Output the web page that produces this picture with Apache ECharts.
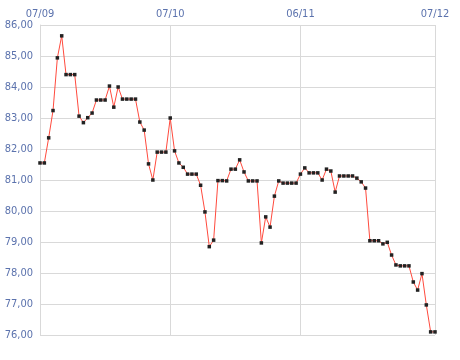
<!DOCTYPE html>
<html>
<head>
<meta charset="utf-8">
<script src="https://cdn.jsdelivr.net/npm/echarts@6/dist/echarts.min.js"></script>
<style>html,body{margin:0;padding:0;background:#fff}#c{width:460px;height:360px}</style>
</head>
<body>
<div id="c"></div>
<script>
// Daily dates from 07/09 to 07/12 (dd/mm)
var startDate = [2012, 8, 7];
var dayCount = 92;
var categories = [];
for (var i = 0; i < dayCount; i++) {
  var d = new Date(Date.UTC(startDate[0], startDate[1], startDate[2] + i));
  var dd = ('0' + d.getUTCDate()).slice(-2), mm = ('0' + (d.getUTCMonth() + 1)).slice(-2);
  categories.push(dd + '/' + mm);
}
var tickLabels = ['07/09', '07/10', '06/11', '07/12'];
var values = [
  81.55, 81.55, 82.36, 83.24, 84.94, 85.65, 84.40, 84.40, 84.40, 83.06,
  82.85, 83.01, 83.16, 83.58, 83.58, 83.58, 84.03, 83.35, 84.00, 83.61,
  83.61, 83.61, 83.61, 82.87, 82.61, 81.52, 81.00, 81.90, 81.90, 81.90,
  83.00, 81.94, 81.55, 81.41, 81.19, 81.19, 81.19, 80.83, 79.97, 78.85,
  79.06, 80.98, 80.98, 80.97, 81.35, 81.35, 81.65, 81.26, 80.97, 80.97,
  80.97, 78.97, 79.81, 79.48, 80.48, 80.97, 80.90, 80.90, 80.90, 80.90,
  81.19, 81.39, 81.23, 81.23, 81.23, 81.00, 81.35, 81.29, 80.61, 81.13,
  81.13, 81.13, 81.13, 81.06, 80.94, 80.74, 79.04, 79.04, 79.04, 78.94,
  78.99, 78.58, 78.26, 78.23, 78.23, 78.23, 77.71, 77.45, 77.98, 76.97,
  76.10, 76.10
];
var yMin = 76, yMax = 86, yStep = 1;

var labelColor = '#5b72ad';
var gridColor = '#d9d9d9';
var chart = echarts.init(document.getElementById('c'), null, {renderer: 'canvas'});
function isTick(idx, val) { return tickLabels.indexOf(categories[idx]) >= 0; }
chart.setOption({
  animation: false,
  grid: {left: 40, right: 25, top: 25, bottom: 25, containLabel: false},
  xAxis: {
    type: 'category',
    position: 'top',
    data: categories,
    boundaryGap: false,
    axisLine: {show: false},
    axisTick: {show: false},
    axisLabel: {
      interval: isTick,
      color: labelColor,
      fontFamily: 'DejaVu Sans Condensed',
      fontSize: 11,
      margin: 5
    },
    splitLine: {show: true, interval: isTick, lineStyle: {color: gridColor, width: 1}}
  },
  yAxis: {
    type: 'value',
    min: yMin, max: yMax, interval: yStep,
    axisLine: {show: true, lineStyle: {color: gridColor}},
    axisTick: {show: false},
    axisLabel: {
      color: labelColor,
      fontFamily: 'DejaVu Sans Condensed',
      fontSize: 11,
      margin: 7,
      formatter: function (v) { return v.toFixed(2).replace('.', ','); }
    },
    splitLine: {show: true, lineStyle: {color: gridColor, width: 1}}
  },
  series: [{
    type: 'line',
    data: values,
    symbol: 'rect',
    symbolSize: 3.5,
    showAllSymbol: true,
    lineStyle: {color: '#ff4a3d', width: 1},
    itemStyle: {color: '#222222'}
  }]
});
</script>
</body>
</html>
